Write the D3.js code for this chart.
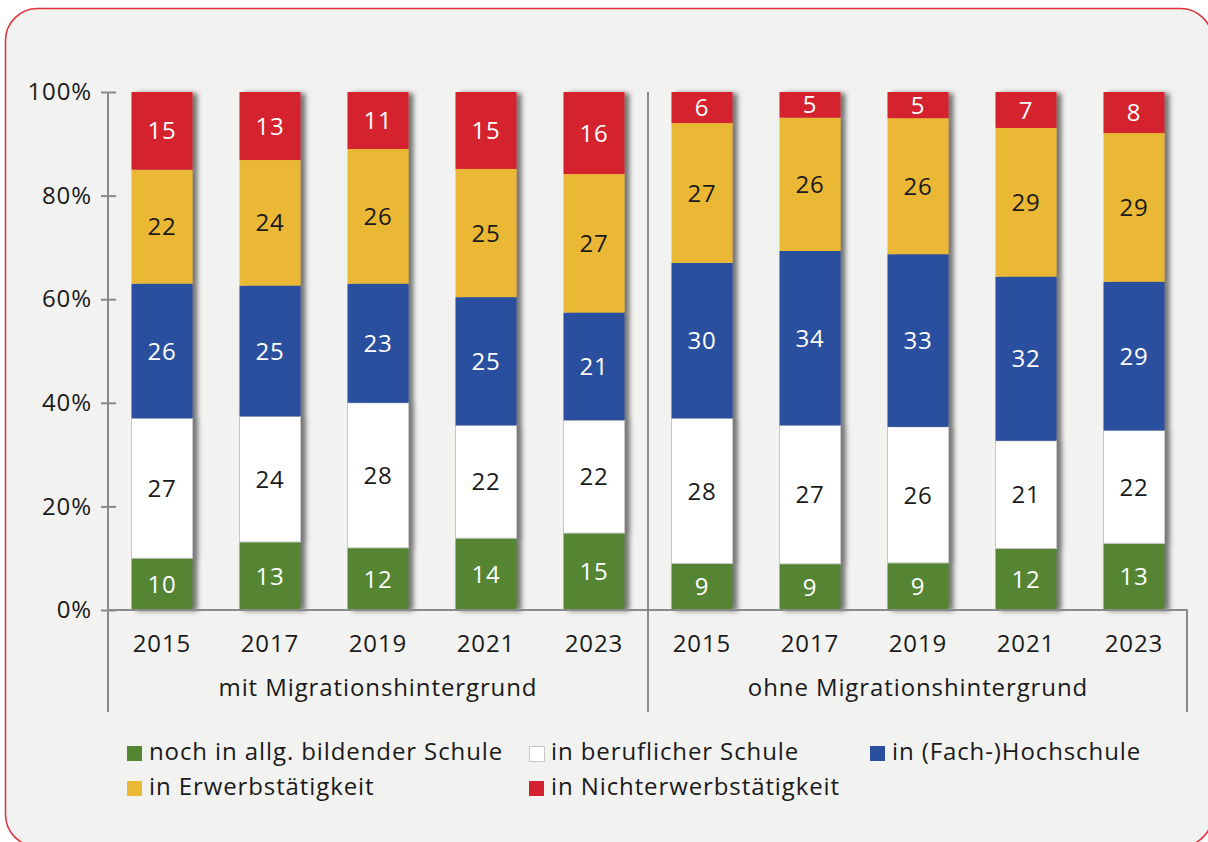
<!DOCTYPE html>
<html>
<head>
<meta charset="utf-8">
<script src="https://cdn.jsdelivr.net/npm/d3@7"></script>
<style>
  html, body { margin: 0; padding: 0; background: #ffffff; }
  svg { display: block; }
  text { font-family: "Open Sans", Lato, sans-serif; letter-spacing: 0.9px; }
</style>
</head>
<body>
<svg id="chart" width="1208" height="842"></svg>
<script>
// ---- Data ----
const years = ["2015", "2017", "2019", "2021", "2023"];
const groups = ["mit Migrationshintergrund", "ohne Migrationshintergrund"];
const seriesNames = [
  "noch in allg. bildender Schule",
  "in beruflicher Schule",
  "in (Fach-)Hochschule",
  "in Erwerbstätigkeit",
  "in Nichterwerbstätigkeit"
];
// values per bar: first 5 = mit, last 5 = ohne
const allgSchule  = [10, 13, 12, 14, 15,  9,  9,  9, 12, 13];
const berufSchule = [27, 24, 28, 22, 22, 28, 27, 26, 21, 22];
const hochschule  = [26, 25, 23, 25, 21, 30, 34, 33, 32, 29];
const erwerb      = [22, 24, 26, 25, 27, 27, 26, 26, 29, 29];
const nichterwerb = [15, 13, 11, 15, 16,  6,  5,  5,  7,  8];
const yTicks = [0, 0.2, 0.4, 0.6, 0.8, 1];

const colors = ["#548530", "#ffffff", "#2a4f9e", "#ebb834", "#d4202f"];
const textColors = ["#ffffff", "#1a1a1a", "#ffffff", "#1a1a1a", "#ffffff"];

const FONT = 24;

const seriesArrays = [allgSchule, berufSchule, hochschule, erwerb, nichterwerb];
const keys = ["s0", "s1", "s2", "s3", "s4"];
const rows = [];
groups.forEach((g, gi) => {
  years.forEach((yr, yi) => {
    const idx = gi * years.length + yi;
    const row = { id: g + "|" + yr, year: yr, group: g };
    keys.forEach((k, ki) => row[k] = seriesArrays[ki][idx]);
    rows.push(row);
  });
});

const svg = d3.select("#chart");

// frame
svg.append("rect")
  .attr("x", 5.5).attr("y", 8.5)
  .attr("width", 1207).attr("height", 838)
  .attr("rx", 32).attr("ry", 32)
  .attr("fill", "#f2f2f1")
  .attr("stroke", "#e0303a")
  .attr("stroke-width", 1.5);

// shadow filter
const defs = svg.append("defs");
const f = defs.append("filter").attr("id", "shadow")
  .attr("x", "-20%").attr("y", "-5%").attr("width", "160%").attr("height", "115%");
f.append("feDropShadow")
  .attr("dx", 5).attr("dy", 1).attr("stdDeviation", 2.5)
  .attr("flood-color", "#4a4a4a").attr("flood-opacity", 0.75);

const x = d3.scaleBand()
  .domain(rows.map(d => d.id))
  .range([108, 1188])
  .paddingInner(0.435)
  .paddingOuter(0.2175);

const y = d3.scaleLinear().domain([0, 1]).range([610, 92]);

const stack = d3.stack().keys(keys).offset(d3.stackOffsetExpand);
const stacked = stack(rows);

// bars
const barGroups = svg.append("g").selectAll("g.bar")
  .data(rows)
  .join("g")
  .attr("class", "bar")
  .attr("filter", "url(#shadow)");

barGroups.each(function(row, ri) {
  const g = d3.select(this);
  stacked.forEach((layer, li) => {
    const seg = layer[ri];
    g.append("rect")
      .attr("x", x(row.id))
      .attr("y", y(seg[1]))
      .attr("width", x.bandwidth())
      .attr("height", y(seg[0]) - y(seg[1]))
      .attr("fill", colors[li])
      .attr("stroke", li === 1 ? "#c8c8c8" : "none")
      .attr("stroke-width", li === 1 ? 1 : 0);
  });
});

// segment labels
const labelG = svg.append("g");
stacked.forEach((layer, li) => {
  labelG.selectAll(null)
    .data(layer)
    .join("text")
    .attr("x", d => x(d.data.id) + x.bandwidth() / 2)
    .attr("y", d => (y(d[0]) + y(d[1])) / 2)
    .attr("dy", "0.36em")
    .attr("text-anchor", "middle")
    .attr("font-size", FONT)
    .attr("fill", textColors[li])
    .text(d => d.data[keys[li]]);
});

// y axis
const yAxis = svg.append("g")
  .attr("transform", "translate(108,0)")
  .call(d3.axisLeft(y).tickValues(yTicks).tickFormat(d3.format(".0%"))
    .tickSize(7).tickPadding(9));
yAxis.select(".domain").remove();
yAxis.selectAll(".tick line").attr("x1", -7).attr("x2", 8)
  .attr("stroke", "#888").attr("stroke-width", 2);
yAxis.selectAll(".tick text")
  .attr("font-size", FONT).attr("fill", "#1a1a1a")
  .attr("font-family", "'Open Sans', Lato, sans-serif");

const lineColor = "#8a8a8a";
svg.append("line").attr("x1", 108).attr("x2", 108).attr("y1", 92).attr("y2", 712)
  .attr("stroke", lineColor).attr("stroke-width", 2);
svg.append("line").attr("x1", 108).attr("x2", 1188).attr("y1", 610).attr("y2", 610)
  .attr("stroke", lineColor).attr("stroke-width", 2);
const sepX = (x(rows[4].id) + x.bandwidth() + x(rows[5].id)) / 2;
svg.append("line").attr("x1", sepX).attr("x2", sepX).attr("y1", 92).attr("y2", 712)
  .attr("stroke", lineColor).attr("stroke-width", 2);
svg.append("line").attr("x1", 1187).attr("x2", 1187).attr("y1", 610).attr("y2", 712)
  .attr("stroke", lineColor).attr("stroke-width", 2);

// x-axis year labels
svg.append("g").selectAll("text")
  .data(rows)
  .join("text")
  .attr("x", d => x(d.id) + x.bandwidth() / 2)
  .attr("y", 652)
  .attr("text-anchor", "middle")
  .attr("font-size", FONT)
  .attr("fill", "#1a1a1a")
  .text(d => d.year);

// group labels
svg.append("g").selectAll("text")
  .data(groups)
  .join("text")
  .attr("x", (g, gi) => {
    const first = rows[gi * years.length], last = rows[gi * years.length + years.length - 1];
    return (x(first.id) + x(last.id) + x.bandwidth()) / 2;
  })
  .attr("y", 696)
  .attr("text-anchor", "middle")
  .attr("font-size", FONT)
  .attr("fill", "#1a1a1a")
  .text(d => d);

// legend
const legendPos = [
  { x: 127, y: 746 },
  { x: 529, y: 746 },
  { x: 870, y: 746 },
  { x: 127, y: 781 },
  { x: 529, y: 781 }
];
const lg = svg.append("g").selectAll("g")
  .data(seriesNames)
  .join("g")
  .attr("transform", (d, i) => `translate(${legendPos[i].x},${legendPos[i].y})`);
lg.append("rect")
  .attr("width", 15).attr("height", 15)
  .attr("x", (d, i) => i === 1 ? 0.5 : 0)
  .attr("y", (d, i) => i === 1 ? 0.5 : 0)
  .attr("fill", (d, i) => colors[i])
  .attr("stroke", (d, i) => i === 1 ? "#c8c8c8" : "none")
  .attr("stroke-width", 1);
lg.append("text")
  .attr("x", 22)
  .attr("y", 14)
  .attr("font-size", FONT)
  .attr("fill", "#1a1a1a")
  .text(d => d);
</script>
</body>
</html>
